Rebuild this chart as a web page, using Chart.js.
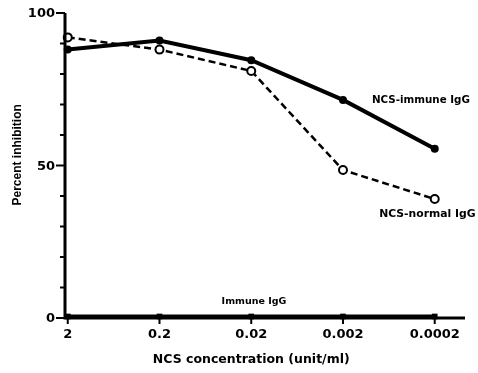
<!DOCTYPE html>
<html>
<head>
<meta charset="UTF-8" />
<script src="https://cdn.jsdelivr.net/npm/chart.js"></script>
<style>
  body { margin: 0; background: #fff; }
  #wrap { width: 478px; height: 373px; }
</style>
</head>
<body>
<div id="wrap"><canvas id="grafico" width="478" height="373"></canvas></div>
<script>
  // NCS concentration (unit/ml), plotted left to right at equal steps
  const concentraciones = ["2", "0.2", "0.02", "0.002", "0.0002"];
  const ncsInmune = [88, 91, 84.5, 71.5, 55.5];
  const ncsNormal = [92, 88, 81, 48.5, 39];
  const inmune = [0.5, 0.5, 0.5, 0.5, 0.5];
  const yEtiquetas = [0, 50, 100];

  const fuente = "'Liberation Sans', Arial, sans-serif";
  const fuenteAncha = "'DejaVu Sans', sans-serif";

  function puntos(vals) {
    return vals.map((v, i) => ({ x: i, y: v }));
  }

  // text labels next to the curves, placed in data units
  const rotulos = [
    { text: "NCS-immune IgG", x: 3.85, y: 71.5, size: 10.3 },
    { text: "NCS-normal IgG", x: 3.92, y: 34, size: 10.8 },
    { text: "Immune IgG", x: 2.03, y: 5.5, size: 9.5 }
  ];

  const extras = {
    id: "extras",
    afterDraw(chart) {
      const ctx = chart.ctx;
      const xs = chart.scales.x, ys = chart.scales.y;
      ctx.save();
      ctx.strokeStyle = "#000";
      ctx.lineCap = "butt";
      // axis lines
      ctx.lineWidth = 3;
      ctx.beginPath();
      ctx.moveTo(xs.left, ys.top);
      ctx.lineTo(xs.left, ys.bottom);
      ctx.lineTo(xs.right, ys.bottom);
      ctx.stroke();
      // y ticks and labels
      ctx.lineWidth = 2;
      ctx.fillStyle = "#000";
      ctx.textAlign = "right";
      ctx.textBaseline = "middle";
      ctx.font = "bold 13px " + fuenteAncha;
      for (let v = 0; v <= 100; v += 10) {
        const py = ys.getPixelForValue(v);
        const mayor = yEtiquetas.includes(v);
        const len = mayor ? 9 : 5;
        ctx.beginPath();
        ctx.moveTo(xs.left - len, py);
        ctx.lineTo(xs.left, py);
        ctx.stroke();
        if (mayor) ctx.fillText(String(v), xs.left - 10, py + 1);
      }
      // x ticks
      concentraciones.forEach((c, i) => {
        const px = xs.getPixelForValue(i);
        ctx.beginPath();
        ctx.moveTo(px, ys.bottom);
        ctx.lineTo(px, ys.bottom + 6);
        ctx.stroke();
      });
      ctx.textAlign = "center";
      rotulos.forEach(r => {
        ctx.font = "bold " + r.size + "px " + fuenteAncha;
        ctx.fillText(r.text, xs.getPixelForValue(r.x), ys.getPixelForValue(r.y));
      });
      // x axis title
      ctx.font = "bold 12.5px " + fuenteAncha;
      ctx.fillText("NCS concentration (unit/ml)", xs.getPixelForValue(2), 360);
      // y axis title
      ctx.translate(18, ys.getPixelForValue(53.5));
      ctx.rotate(-Math.PI / 2);
      ctx.font = "bold 12px " + fuente;
      ctx.fillText("Percent inhibition", 0, 0);
      ctx.restore();
    }
  };

  const ctx = document.getElementById("grafico").getContext("2d");
  new Chart(ctx, {
    type: "line",
    data: {
      datasets: [
        {
          label: "NCS-immune IgG",
          data: puntos(ncsInmune),
          borderColor: "#000",
          backgroundColor: "#000",
          borderWidth: 4,
          pointRadius: 4,
          pointBorderWidth: 0,
          clip: false
        },
        {
          label: "NCS-normal IgG",
          data: puntos(ncsNormal),
          borderColor: "#000",
          backgroundColor: "#fff",
          borderWidth: 2.5,
          borderDash: [7, 4],
          pointRadius: 4,
          pointBorderWidth: 2,
          clip: false
        },
        {
          label: "Immune IgG",
          data: puntos(inmune),
          borderColor: "#000",
          backgroundColor: "#000",
          borderWidth: 4,
          pointStyle: "rect",
          pointRadius: 4,
          pointBorderWidth: 0,
          clip: false
        }
      ]
    },
    options: {
      responsive: false,
      animation: false,
      layout: { padding: { top: 13, right: 13, left: 0, bottom: 0 } },
      plugins: { legend: { display: false }, tooltip: { enabled: false } },
      scales: {
        x: {
          type: "linear",
          min: -0.03,
          max: 4.33,
          afterBuildTicks: s => { s.ticks = concentraciones.map((c, i) => ({ value: i })); },
          afterFit: s => { s.height = 55; },
          grid: { display: false, drawTicks: false },
          border: { display: false },
          ticks: {
            callback: (v) => concentraciones[v],
            color: "#000",
            font: { family: fuenteAncha, size: 13, weight: "bold" },
            padding: 9,
            maxRotation: 0
          }
        },
        y: {
          min: 0,
          max: 100,
          afterFit: s => { s.width = 65; },
          grid: { display: false, drawTicks: false },
          border: { display: false },
          ticks: { display: false }
        }
      }
    },
    plugins: [extras]
  });
</script>
</body>
</html>
